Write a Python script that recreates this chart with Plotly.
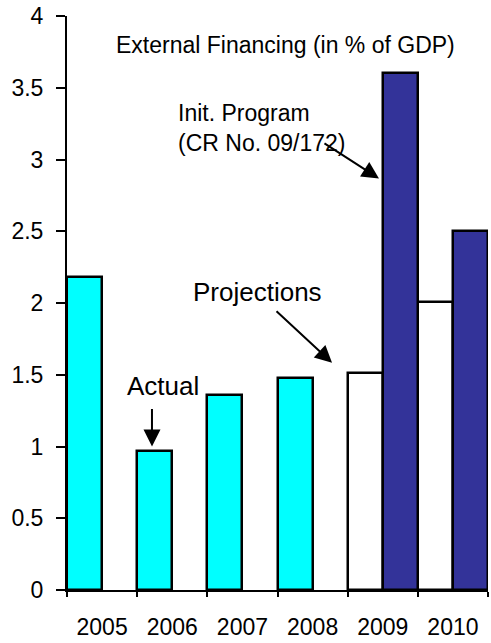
import plotly.graph_objects as go

years = ["2005", "2006", "2007", "2008", "2009", "2010"]
actual_proj = [2.18, 0.97, 1.36, 1.48, 1.51, 2.01]
actual_proj_colors = ["#00FFFF", "#00FFFF", "#00FFFF", "#00FFFF", "#FFFFFF", "#FFFFFF"]
program = [None, None, None, None, 3.6, 2.5]
program_color = "#333399"
y_ticks = [0, 0.5, 1, 1.5, 2, 2.5, 3, 3.5, 4]
y_tick_text = ["0", "0.5", "1", "1.5", "2", "2.5", "3", "3.5", "4"]

FONT = "Liberation Sans, Arial, sans-serif"

fig = go.Figure()
fig.add_trace(go.Bar(
    x=years, y=actual_proj,
    marker=dict(color=actual_proj_colors, line=dict(color="black", width=2.5)),
    name="Actual / Projections", showlegend=False,
))
fig.add_trace(go.Bar(
    x=years, y=program,
    marker=dict(color=program_color, line=dict(color="black", width=2.5)),
    name="Init. Program", showlegend=False,
))

ARROW = dict(showarrow=True, arrowhead=2, arrowsize=1.7, arrowwidth=2,
             arrowcolor="black", text="", xref="x", yref="y")

annotations = [
    # title
    dict(text="External Financing (in % of GDP)", xref="paper", yref="paper",
         x=0.518, y=0.976, showarrow=False, font=dict(size=23, color="black")),
    # Actual
    dict(text="Actual", xref="x", yref="y", x=0.868, y=1.424, showarrow=False,
         font=dict(size=26, color="black")),
    dict(x=0.711, y=1.0, ax=0, ay=-39, **ARROW),
    # Projections
    dict(text="Projections", xref="x", yref="y", x=2.208, y=2.076, showarrow=False,
         font=dict(size=26, color="black")),
    dict(x=3.277, y=1.583, ax=-57, ay=-53, **ARROW),
    # Init. Program
    dict(text="Init. Program<br>(CR No. 09/172)", xref="x", yref="y", x=1.053, y=3.219,
         xanchor="left", align="left", showarrow=False,
         font=dict(size=23, color="black")),
    dict(x=3.946, y=2.868, ax=-56, ay=-36, **ARROW),
]

fig.update_layout(
    width=491, height=643,
    margin=dict(l=67, r=3, t=15, b=52),
    paper_bgcolor="white", plot_bgcolor="white",
    barmode="group", bargap=0, bargroupgap=0,
    font=dict(family=FONT, size=23, color="black"),
    annotations=annotations,
)
fig.update_xaxes(
    type="category", showline=True, linecolor="black", linewidth=2,
    ticks="outside", ticklen=5, tickwidth=2, tickcolor="black",
    tickson="boundaries", showgrid=False, zeroline=False,
    tickfont=dict(size=23), ticklabelstandoff=15,
)
fig.update_yaxes(
    range=[0, 4], tickvals=y_ticks, ticktext=y_tick_text,
    showline=True, linecolor="black", linewidth=2,
    ticks="outside", ticklen=9, tickwidth=2, tickcolor="black",
    showgrid=False, zeroline=False, tickfont=dict(size=23),
    ticklabelstandoff=8,
)

fig.write_html("out.html", config={"displayModeBar": False})

# remove the default 8px page margin so the figure fills the window exactly
with open("out.html", "r", encoding="utf-8") as f:
    html = f.read()
html = html.replace("<body>", '<body style="margin:0;padding:0;overflow:hidden">', 1)
with open("out.html", "w", encoding="utf-8") as f:
    f.write(html)
